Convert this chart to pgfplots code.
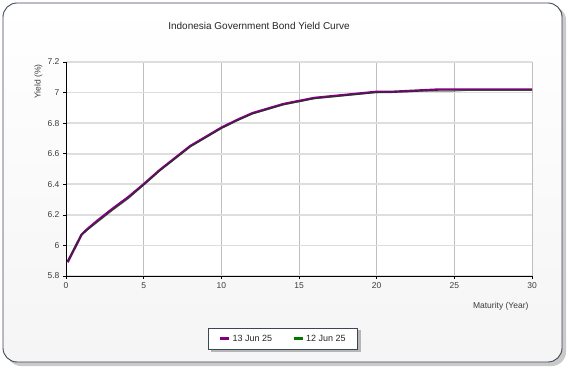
\documentclass[border=0pt]{standalone}
\usepackage{pgfplots}
\pgfplotsset{compat=1.18}
\usepackage{fontspec}
\setmainfont{Liberation Sans}
\definecolor{ser1}{RGB}{128,0,128}
\definecolor{ser2}{RGB}{0,120,0}
\definecolor{framec}{RGB}{60,70,85}
\definecolor{txt}{RGB}{60,60,60}
\begin{document}
\begin{tikzpicture}[x=1pt,y=1pt]
\path (0,0) rectangle (570,375);
\fill[black!35,opacity=0.6,rounded corners=14pt] (7,9) rectangle (566,369);
\shade[top color=white,bottom color=black!4,draw=framec,line width=0.9pt,rounded corners=14pt] (3,13) rectangle (562,372);
\fill[black!45,opacity=0.6] (210.5,23) rectangle (361,45);
\node[font=\fontsize{10}{12}\selectfont,text=black!85] at (259,349) {Indonesia Government Bond Yield Curve};
\begin{axis}[
  at={(66pt,99pt)}, anchor=south west,
  scale only axis, width=466pt, height=214pt,
  xmin=0, xmax=30, ymin=5.8, ymax=7.2,
  xtick={0,5,...,30}, ytick={5.8,6,...,7.2},
  /pgf/number format/assume math mode=true,
  tick label style={font=\fontsize{8.5}{10}\selectfont, text=txt},
  axis line style={draw=none},
  axis background/.style={fill=white},
  grid=major,
  x grid style={draw=black!25, line width=0.6pt},
  y grid style={draw=black!13, line width=1.6pt},
  tick align=outside, major tick length=3pt,
  tick style={black, line width=0.6pt},
  xtick pos=bottom, ytick pos=left,
  clip=false,
  legend columns=2,
  legend style={at={(0.466,-0.294)}, anchor=center, draw=framec, line width=0.8pt, fill=white, font=\fontsize{9}{11}\selectfont, text=black!85, inner xsep=10pt, inner ysep=5pt, /tikz/every even column/.append style={column sep=18pt}},
]
\draw[black, line width=0.9pt] (axis cs:0,5.8) -- (axis cs:30,5.8);
\draw[black, line width=0.9pt] (axis cs:0,5.8) -- (axis cs:0,7.2);
\addplot[ser1, line width=2.4pt, line join=round, legend image code/.code={\draw[ser1, line width=3pt, opacity=1] (0pt,0pt) -- (9pt,0pt);}] coordinates {
(0.1,5.89) (1,6.07) (1.3,6.10) (2,6.16) (3,6.24) (4,6.315) (5,6.40) (6,6.49) (7,6.57) (8,6.65) (9,6.71) (10,6.77) (11,6.82) (12,6.865) (13,6.895) (14,6.925) (15,6.945) (16,6.965) (17,6.975) (18,6.985) (19,6.995) (20,7.005) (21,7.005) (22,7.01) (23,7.015) (24,7.02) (25,7.02) (26,7.02) (30,7.02)};
\addlegendentry{13 Jun 25}
\addplot[ser2!60!black, line width=1.0pt, opacity=0.7, line join=round, legend image code/.code={\draw[ser2, line width=3pt, opacity=1] (0pt,0pt) -- (9pt,0pt);}] coordinates {
(0.1,5.90) (1,6.07) (1.3,6.095) (2,6.15) (3,6.23) (4,6.305) (5,6.395) (6,6.485) (7,6.565) (8,6.645) (9,6.705) (10,6.765) (11,6.815) (12,6.86) (13,6.89) (14,6.92) (15,6.94) (16,6.96) (17,6.97) (18,6.98) (19,6.99) (20,7.0) (21,7.005) (22,7.005) (23,7.01) (24,7.01) (25,7.01) (26,7.015) (30,7.015)};
\addlegendentry{12 Jun 25}
\end{axis}
\node[font=\fontsize{8.5}{10}\selectfont,text=txt,rotate=90,anchor=north east] at (31,314) {Yield (\%)};
\node[font=\fontsize{8.5}{10}\selectfont,text=txt,anchor=east] at (532,69) {Maturity (Year)};
\end{tikzpicture}
\end{document}
